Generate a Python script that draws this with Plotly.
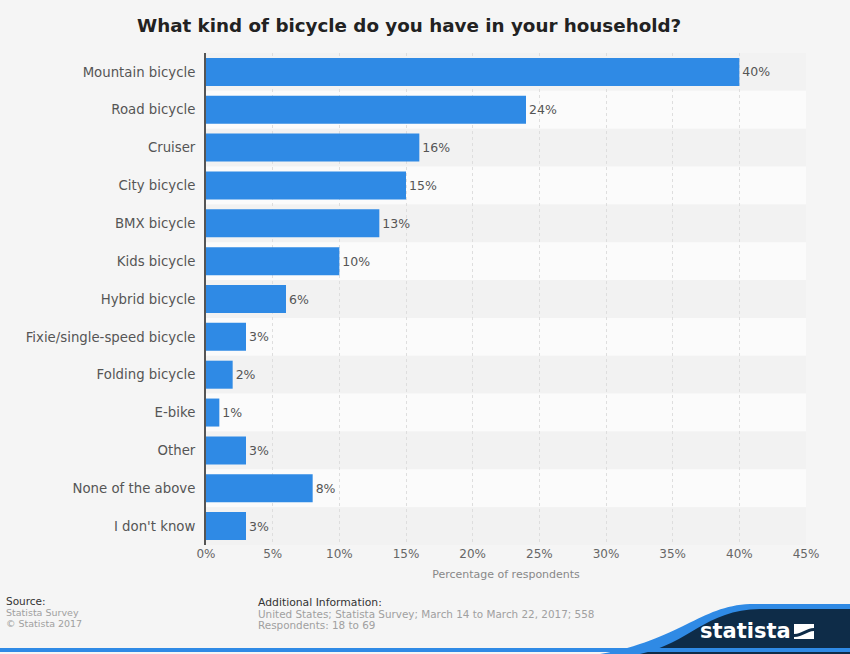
import plotly.graph_objects as go

categories = ["Mountain bicycle", "Road bicycle", "Cruiser", "City bicycle", "BMX bicycle",
              "Kids bicycle", "Hybrid bicycle", "Fixie/single-speed bicycle", "Folding bicycle",
              "E-bike", "Other", "None of the above", "I don't know"]
values = [40, 24, 16, 15, 13, 10, 6, 3, 2, 1, 3, 8, 3]
x_ticks = [0, 5, 10, 15, 20, 25, 30, 35, 40, 45]
x_tick_labels = [f"{t}%" for t in x_ticks]

W, H = 850, 654
ML, MR, MT, MB = 206, 44, 53, 109
PW, PH = W - ML - MR, H - MT - MB

def px(xp):
    return (xp - ML) / PW

def py(yp):
    return (H - MB - yp) / PH

fig = go.Figure()
fig.add_trace(go.Bar(
    x=values, y=categories, orientation="h",
    marker=dict(color="#2f8ae5", line=dict(width=0)),
    text=[f"{v}%" for v in values], textposition="outside",
    textfont=dict(family="DejaVu Sans", size=12.5, color="#555555"),
    cliponaxis=False, width=0.74,
))

shapes = []
# alternating row bands
for i, c in enumerate(categories):
    shapes.append(dict(type="rect", xref="x", yref="y", x0=0, x1=45,
                       y0=i - 0.5, y1=i + 0.5, layer="below", line=dict(width=0),
                       fillcolor="#f2f2f2" if i % 2 == 0 else "#fbfbfb"))
# footer logo
shapes.append(dict(type="path", xref="paper", yref="paper", layer="above",
                   path=f"M {px(600)},{py(654)} C {px(680)},{py(640)} {px(700)},{py(606)} {px(750)},{py(604)} "
                        f"L {px(850)},{py(604)} L {px(850)},{py(654)} Z",
                   fillcolor="#2f8ae5", line=dict(width=0)))
shapes.append(dict(type="path", xref="paper", yref="paper", layer="above",
                   path=f"M {px(640)},{py(654)} C {px(690)},{py(643)} {px(705)},{py(610)} {px(760)},{py(609)} "
                        f"L {px(850)},{py(609)} L {px(850)},{py(654)} Z",
                   fillcolor="#0e2c48", line=dict(width=0)))
shapes.append(dict(type="rect", xref="paper", yref="paper", layer="above",
                   x0=px(0), x1=px(850), y0=py(652), y1=py(648),
                   fillcolor="#2f8ae5", line=dict(width=0)))
# logo icon
shapes.append(dict(type="rect", xref="paper", yref="paper", layer="above",
                   x0=px(794), x1=px(814), y0=py(639), y1=py(624),
                   fillcolor="#ffffff", line=dict(width=0)))
shapes.append(dict(type="path", xref="paper", yref="paper", layer="above",
                   path=f"M {px(794)},{py(634)} C {px(802)},{py(634)} {px(806)},{py(628)} {px(814)},{py(628)} "
                        f"L {px(814)},{py(631)} C {px(807)},{py(631)} {px(803)},{py(637)} {px(794)},{py(637)} Z",
                   fillcolor="#0e2c48", line=dict(width=0)))

def note(text, x, y, size, color, anchor="left", bold=False):
    return dict(text=f"<b>{text}</b>" if bold else text, xref="paper", yref="paper",
                x=px(x), y=py(y), showarrow=False, xanchor=anchor, yanchor="middle",
                font=dict(family="DejaVu Sans", size=size, color=color))

annotations = [
    note("What kind of bicycle do you have in your household?", 409, 26, 18.3, "#222222", "center", True),
    note("Source:", 4, 601, 10.5, "#333333"),
    note("Statista Survey", 4, 612.5, 9.5, "#a0a0a0"),
    note("© Statista 2017", 4, 623, 9.5, "#a0a0a0"),
    note("Additional Information:", 256, 602.5, 10.8, "#333333"),
    note("United States; Statista Survey; March 14 to March 22, 2017; 558", 256, 614, 10.4, "#a0a0a0"),
    note("Respondents: 18 to 69", 256, 624.5, 10.4, "#a0a0a0"),
    note("statista", 745, 631, 21, "#ffffff", "center", True),
]

fig.update_layout(
    width=W, height=H,
    margin=dict(l=ML, r=MR, t=MT, b=MB),
    paper_bgcolor="#f5f5f5", plot_bgcolor="#f5f5f5",
    showlegend=False, bargap=0.26,
    shapes=shapes, annotations=annotations,
    font=dict(family="DejaVu Sans", color="#555555"),
    xaxis=dict(range=[0, 45], tickvals=x_ticks, ticktext=x_tick_labels,
               showgrid=True, gridcolor="#dedede", griddash="3px,3px", gridwidth=1,
               zeroline=False, ticks="", tickfont=dict(size=12, color="#666666"),
               title=dict(text="Percentage of respondents", font=dict(size=11, color="#888888"), standoff=10)),
    yaxis=dict(categoryorder="array", categoryarray=categories, autorange="reversed",
               showline=True, linecolor="#555555", linewidth=2, showgrid=False, ticks="",
               ticklabelstandoff=6, tickfont=dict(size=13.3, color="#555555")),
)

fig.write_html("out.html", config={"displayModeBar": False},
               post_script="document.body.style.margin='0';document.body.style.overflow='hidden';")
